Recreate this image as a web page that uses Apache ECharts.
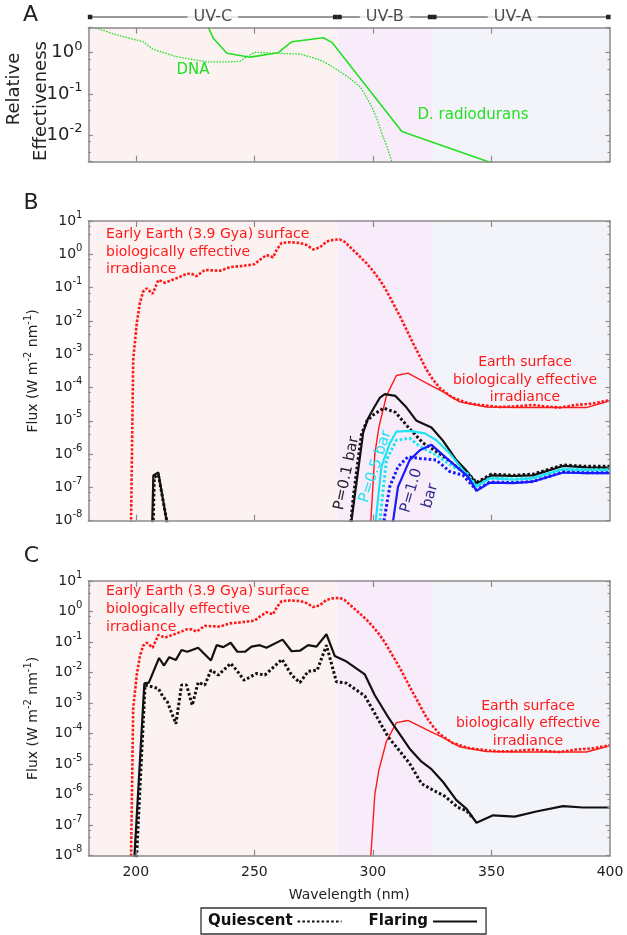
<!DOCTYPE html>
<html><head><meta charset="utf-8">
<script src="https://cdn.jsdelivr.net/npm/echarts@6/dist/echarts.min.js"></script>
<style>html,body{margin:0;padding:0;background:#fff}#c{width:627px;height:935px}</style>
</head><body><div id="c"></div>
<script>
// ---------------- DATA ----------------
// UV band limits (nm)
const bandEdges = [180, 285, 325, 400];
const uvNames = ['UV-C', 'UV-B', 'UV-A'];
const uvStart = [180.7, 285.9, 325.9];
const uvEnd = [284.1, 324.1, 399.3];
const uvLabelAt = [232.5, 305, 359];
const xTicks = [200, 250, 300, 350, 400];

// Panel A: action spectra (relative effectiveness)
const dnaWl  = [180, 183, 192, 203, 207.4, 217.2, 229.9, 239.7, 244, 246.7, 250.3, 260.8, 269.3, 277.7, 281.8, 286.1, 290.3, 294.6, 297, 299.5, 301.7, 303.8, 306, 308, 311];
const dnaVal = [5.5, 4.0, 2.68, 1.85, 1.2, 0.8, 0.6, 0.6, 0.62, 0.8, 1.02, 0.96, 0.93, 0.67, 0.5, 0.35, 0.24, 0.15, 0.089, 0.049, 0.025, 0.011, 0.0052, 0.0023, 0.0008];
const draWl  = [229.5, 230.6, 232.7, 238.4, 248.2, 260.1, 265.8, 279.1, 282.7, 312.2, 348.7, 360];
const draVal = [6.0, 4.1, 2.23, 0.97, 0.78, 1.0, 1.85, 2.3, 1.78, 0.0123, 0.0023, 0.00135];

// Early Earth (3.9 Gya) surface biologically effective irradiance (W m-2 nm-1)
const eeWl  = [197.8, 198.9, 200.4, 201.7, 203.1, 204.6, 207.1, 209.5, 212.3, 214.4, 218.6, 221.4, 223.5, 225.6, 229.1, 232, 235.5, 239.7, 244, 248.1, 250, 252.3, 255.1, 257.9, 259.5, 261.5, 265, 269.2, 272, 274.8, 277.6, 280.4, 283, 286, 288, 290.2, 293.5, 297.3, 300, 302.9, 305.5, 308.5, 311.5, 314.2, 317, 319.8, 322.5, 325.4, 328, 331, 333.5, 336.6, 340, 345, 353.5, 360, 367.5, 373, 378.7, 385.8, 392.8, 400];
const eeVal = [1e-9, 6.8e-4, 8.5e-3, 0.034, 0.076, 0.095, 0.065, 0.17, 0.14, 0.16, 0.21, 0.26, 0.26, 0.22, 0.34, 0.33, 0.32, 0.41, 0.44, 0.48, 0.5, 0.68, 0.95, 0.81, 1.4, 2.2, 2.3, 2.2, 1.9, 1.4, 1.6, 2.4, 2.7, 2.8, 2.4, 1.7, 1.0, 0.54, 0.32, 0.17, 0.085, 0.034, 0.0135, 5.4e-3, 2.1e-3, 8.5e-4, 3.5e-4, 1.7e-4, 1.0e-4, 6.8e-5, 5.0e-5, 4.2e-5, 3.4e-5, 3.0e-5, 2.6e-5, 2.7e-5, 3.0e-5, 2.7e-5, 2.5e-5, 3.0e-5, 3.3e-5, 4.2e-5];

// Present Earth surface biologically effective irradiance
const esWl  = [298.3, 300.8, 302.5, 305.7, 309.9, 314.8, 322.6, 329.6, 336.6, 347.9, 360.5, 378.7, 390, 400];
const esVal = [1e-9, 1.0e-6, 6.3e-6, 5.6e-5, 2.3e-4, 2.7e-4, 1.35e-4, 7.4e-5, 3.7e-5, 2.6e-5, 2.5e-5, 2.5e-5, 2.5e-5, 4.0e-5];

// Panel B: planet surface, P = 0.1 bar
const p01FlareWl  = [206.6, 207.4, 209.5, 215.4, 289.1, 293, 295.9, 298, 300.5, 303, 305, 309.5, 314.2, 318.4, 324.7, 329.6, 335.2, 339.4, 343.7, 350, 359.1, 367.5, 380.2, 390, 400];
const p01FlareVal = [1e-9, 2.3e-7, 2.8e-7, 1e-9, 1e-9, 1.26e-7, 4.5e-6, 1.2e-5, 2.5e-5, 5.0e-5, 6.3e-5, 5.6e-5, 2.5e-5, 1.0e-5, 6.3e-6, 2.5e-6, 6.6e-7, 3.2e-7, 1.3e-7, 2.3e-7, 2.2e-7, 2.3e-7, 4.4e-7, 4.0e-7, 3.9e-7];
const p01QuietWl  = [207, 207.8, 209.5, 215.6, 289.5, 291.6, 293.5, 295.2, 297.5, 300.1, 304.5, 309.5, 315, 321, 328, 335.2, 339.4, 343.7, 350, 359.1, 367.5, 380.2, 390, 400];
const p01QuietVal = [1e-9, 2.0e-7, 2.4e-7, 1e-9, 1e-9, 4.2e-8, 5.0e-7, 4.0e-6, 1.0e-5, 1.5e-5, 2.4e-5, 1.8e-5, 6.3e-6, 2.2e-6, 1.05e-6, 4.2e-7, 3.0e-7, 1.4e-7, 2.5e-7, 2.3e-7, 2.5e-7, 4.7e-7, 4.3e-7, 4.3e-7];
// P = 0.5 bar
const p05FlareWl  = [299.7, 303.6, 307.1, 309.9, 315.5, 321.9, 326.8, 332.4, 338, 343.7, 349.3, 359.1, 367.5, 380.2, 390, 400];
const p05FlareVal = [1e-9, 4.2e-7, 2.1e-6, 4.7e-6, 5.0e-6, 4.2e-6, 2.6e-6, 1.05e-6, 3.3e-7, 1.05e-7, 1.9e-7, 1.7e-7, 1.9e-7, 3.5e-7, 3.3e-7, 3.3e-7];
const p05QuietWl  = [301.4, 305.7, 309.9, 315.5, 319.8, 326.8, 333.8, 339.4, 343.7, 349.3, 359.1, 367.5, 380.2, 390, 400];
const p05QuietVal = [1e-9, 6.6e-7, 2.6e-6, 3.0e-6, 1.7e-6, 9.3e-7, 4.2e-7, 2.8e-7, 1.1e-7, 1.9e-7, 1.8e-7, 1.9e-7, 3.6e-7, 3.4e-7, 3.4e-7];
// P = 1.0 bar
const p10FlareWl  = [306.5, 310.6, 315.5, 319.8, 324.7, 329.6, 335.2, 340.1, 343.7, 349.3, 359.1, 367.5, 380.2, 390, 400];
const p10FlareVal = [1e-9, 1.05e-7, 6.6e-7, 1.3e-6, 1.9e-6, 9.3e-7, 4.2e-7, 2.1e-7, 7.9e-8, 1.4e-7, 1.35e-7, 1.5e-7, 2.8e-7, 2.7e-7, 2.7e-7];
const p10QuietWl  = [302.3, 307.1, 310.6, 314.8, 319.8, 326.8, 332.4, 338, 343.7, 349.3, 359.1, 367.5, 380.2, 390, 400];
const p10QuietVal = [1e-9, 1.05e-7, 4.2e-7, 8.3e-7, 7.4e-7, 6.6e-7, 3.0e-7, 2.3e-7, 8.3e-8, 1.45e-7, 1.4e-7, 1.5e-7, 2.9e-7, 2.75e-7, 2.75e-7];

// Panel C: top of atmosphere stellar flux
const topFlareWl  = [198.7, 203.6, 205.5, 209.8, 211.9, 214.1, 216.9, 219.3, 221.7, 226.3, 231.7, 234.1, 236.9, 240, 242.8, 246, 248.8, 252.3, 255.1, 261.9, 265.7, 269.2, 272.7, 276.2, 280.4, 283.9, 288.9, 296.6, 300.8, 306.4, 309.2, 315.5, 320.5, 324.7, 329.6, 335.2, 339.4, 343.7, 350.7, 359.8, 368.9, 380.2, 388.6, 400];
const topFlareVal = [1e-9, 4.4e-3, 4.7e-3, 0.030, 0.017, 0.032, 0.026, 0.055, 0.048, 0.065, 0.025, 0.079, 0.068, 0.095, 0.048, 0.048, 0.071, 0.079, 0.065, 0.12, 0.05, 0.052, 0.079, 0.071, 0.18, 0.035, 0.023, 8.7e-3, 1.8e-3, 3.5e-4, 1.66e-4, 3.2e-5, 1.2e-5, 6.8e-6, 2.6e-6, 6.6e-7, 3.5e-7, 1.2e-7, 2.1e-7, 1.9e-7, 2.8e-7, 4.2e-7, 3.8e-7, 3.8e-7];
const topQuietWl  = [199.7, 203.9, 206.5, 209.5, 211.5, 213.3, 216.9, 219.3, 221.4, 223.8, 226.3, 229.1, 231.7, 234.8, 240, 242.5, 245.7, 250.9, 254.4, 261.7, 265.7, 269.2, 272.7, 276.5, 280.4, 284.6, 288.9, 296.6, 300.8, 306.4, 315.5, 320.5, 325.4, 330.3, 335.9, 339.4, 342];
const topQuietVal = [1e-9, 3.9e-3, 3.5e-3, 3.0e-3, 1.6e-3, 1.1e-3, 2.1e-4, 3.9e-3, 3.9e-3, 8.5e-4, 4.8e-3, 3.9e-3, 0.012, 8.3e-3, 0.02, 0.012, 5.6e-3, 9.3e-3, 8.3e-3, 0.027, 8.3e-3, 4.7e-3, 0.011, 0.012, 0.079, 5.0e-3, 4.5e-3, 1.7e-3, 4.6e-4, 7.9e-5, 1.05e-5, 2.3e-6, 1.4e-6, 8.9e-7, 3.8e-7, 3.0e-7, 1.8e-7];

// ---------------- CHART ----------------
const FONT = 'DejaVu Sans';
const RED = '#ff1a1a', GREEN = '#22e022', BLACK = '#111111', CYAN = '#1ee3f3', BLUE = '#1a1aff';
const AX = '#8a8a8a';
const bandColors = ['#fdf2f2', '#f9ecfa', '#f3f4fa'];
const zip = (a, b) => a.map((x, i) => [x, b[i]]);

const plotL = 88.4, plotR = 17;
const chart = echarts.init(document.getElementById('c'), null, {renderer: 'canvas'});

function powLabel(v) {
  const e = Math.log10(v); const r = Math.round(e);
  if (Math.abs(e - r) > 1e-6) return '';
  return '10{s|' + (r < 0 ? '-' + (-r) : r) + '}';
}
function xAx(grid, pos, labels) {
  return {type: 'value', gridIndex: grid, position: pos, min: 180, max: 400, z: 5,
    axisLine: {show: true, onZero: false, lineStyle: {color: AX, width: 1.5}},
    axisTick: {show: true, inside: true, length: 6, customValues: xTicks.slice(0, 4), lineStyle: {color: AX, width: 1.2}},
    axisLabel: labels ? {show: true, customValues: xTicks, fontFamily: FONT, fontSize: 14, color: '#222', margin: 10} : {show: false},
    splitLine: {show: false}};
}
function yLog(grid, pos, min, max, labels, fs) {
  return {type: 'log', logBase: 10, gridIndex: grid, position: pos, min: min, max: max, z: 5,
    axisLine: {show: true, lineStyle: {color: AX, width: 1.5}},
    axisTick: {show: true, inside: true, length: 4.5, lineStyle: {color: AX, width: 1.2}},
    minorTick: {show: true, splitNumber: 3, length: 2.5, lineStyle: {color: AX, width: 1}},
    axisLabel: labels ? {show: true, formatter: powLabel, fontFamily: FONT, fontSize: fs, color: '#222', margin: 6, lineHeight: fs + 8,
      rich: {s: {fontSize: Math.round(fs * 0.7), lineHeight: 9, verticalAlign: 'top', fontFamily: FONT, color: '#222'}}} : {show: false},
    splitLine: {show: false}};
}
function bg(xi, yi) {
  return {type: 'line', xAxisIndex: xi, yAxisIndex: yi, data: [], silent: true, z: 1,
    markArea: {silent: true, data: bandColors.map((c, i) => [{xAxis: bandEdges[i], itemStyle: {color: c}}, {xAxis: bandEdges[i + 1]}])}};
}
function ln(name, xi, yi, wl, val, color, w, dash, z) {
  return {type: 'line', name: name, xAxisIndex: xi, yAxisIndex: yi, data: zip(wl, val), symbol: 'none', z: z || 3,
    clip: true, silent: true, color: color,
    lineStyle: {color: color, width: w, type: dash || 'solid'}};
}
const DOT_R = [2.6, 1.7], DOT_K = [2.6, 2.2], DOT_G = [1.6, 1.3];

const series = [
  bg(1, 1), bg(3, 3), bg(5, 5),
  // UV bar
  ...uvNames.map((n, i) => ({type: 'line', xAxisIndex: 0, yAxisIndex: 0, data: [[uvStart[i], 0.5], [uvEnd[i], 0.5]],
    symbol: 'rect', symbolSize: 4.5, showSymbol: true, silent: true, color: '#222', lineStyle: {color: '#333', width: 1.2}, z: 2})),
  {type: 'scatter', xAxisIndex: 0, yAxisIndex: 0, silent: true, symbolSize: 0, z: 4,
    data: uvNames.map((n, i) => [uvLabelAt[i], 0.5, n]),
    label: {show: true, position: 'inside', formatter: p => p.value[2], fontFamily: FONT, fontSize: 16, color: '#222',
      backgroundColor: '#fff', padding: [0, 6]}},
  // Panel A
  ln('DNA', 1, 1, dnaWl, dnaVal, GREEN, 1.3, DOT_G),
  ln('D. radiodurans', 1, 1, draWl, draVal, GREEN, 1.6),
  // Panel B
  ln('Early Earth B', 3, 3, eeWl, eeVal, RED, 2.6, DOT_R),
  ln('Earth B', 3, 3, esWl, esVal, RED, 1.4),
  ln('P0.1 quiescent', 3, 3, p01QuietWl, p01QuietVal, BLACK, 3, DOT_K),
  ln('P0.1 flaring', 3, 3, p01FlareWl, p01FlareVal, BLACK, 2.2),
  ln('P0.5 quiescent', 3, 3, p05QuietWl, p05QuietVal, CYAN, 3, DOT_K),
  ln('P0.5 flaring', 3, 3, p05FlareWl, p05FlareVal, CYAN, 2.2),
  ln('P1.0 quiescent', 3, 3, p10QuietWl, p10QuietVal, BLUE, 3, DOT_K),
  ln('P1.0 flaring', 3, 3, p10FlareWl, p10FlareVal, BLUE, 2.2),
  // Panel C
  ln('Early Earth C', 5, 5, eeWl, eeVal, RED, 2.6, DOT_R),
  ln('Earth C', 5, 5, esWl, esVal, RED, 1.4),
  ln('Quiescent', 5, 5, topQuietWl, topQuietVal, BLACK, 3, DOT_K),
  ln('Flaring', 5, 5, topFlareWl, topFlareVal, BLACK, 2.2)
];

const supRich = {s: {fontSize: 10, lineHeight: 9, verticalAlign: 'top', fontFamily: FONT, color: '#222'}};
function txt(x, y, text, opt) {
  return Object.assign({type: 'text', x: x, y: y, silent: true, z: 10,
    style: Object.assign({text: text, font: '15px "DejaVu Sans"', fill: '#222', align: 'center', verticalAlign: 'middle'}, opt.style || {})},
    opt.el || {});
}
const deg = Math.PI / 180;
const graphic = [
  txt(30.5, 15, 'A', {style: {font: '22px "DejaVu Sans"'}}),
  txt(31, 203, 'B', {style: {font: '22px "DejaVu Sans"'}}),
  txt(31.5, 556.5, 'C', {style: {font: '22px "DejaVu Sans"'}}),
  txt(14, 89, 'Relative', {style: {font: '18px "DejaVu Sans"'}, el: {rotation: 90 * deg}}),
  txt(41, 101, 'Effectiveness', {style: {font: '18px "DejaVu Sans"'}, el: {rotation: 90 * deg}}),
  txt(193, 70, 'DNA', {style: {fill: GREEN}}),
  txt(473, 115, 'D. radiodurans', {style: {fill: GREEN}}),
  txt(106, 226, 'Early Earth (3.9 Gya) surface\nbiologically effective\nirradiance', {style: {fill: RED, align: 'left', verticalAlign: 'top', lineHeight: 17.5, font: '14px "DejaVu Sans"'}}),
  txt(106, 583, 'Early Earth (3.9 Gya) surface\nbiologically effective\nirradiance', {style: {fill: RED, align: 'left', verticalAlign: 'top', lineHeight: 17.6, font: '14px "DejaVu Sans"'}}),
  txt(525, 354, 'Earth surface\nbiologically effective\nirradiance', {style: {fill: RED, verticalAlign: 'top', lineHeight: 17.4, font: '14px "DejaVu Sans"'}}),
  txt(528, 697, 'Earth surface\nbiologically effective\nirradiance', {style: {fill: RED, verticalAlign: 'top', lineHeight: 17.8, font: '14px "DejaVu Sans"'}}),
  txt(346.7, 473.3, 'P=0.1 bar', {style: {fill: '#222'}, el: {rotation: 78 * deg}}),
  txt(375.5, 466.7, 'P=0.5 bar', {style: {fill: CYAN}, el: {rotation: 72 * deg}}),
  txt(420.8, 493.3, 'P=1.0\nbar', {style: {fill: '#2e2e8a', lineHeight: 19.5}, el: {rotation: 74 * deg}})
];

const option = {
  animation: false,
  backgroundColor: '#fff',
  grid: [
    {left: plotL, right: plotR, top: 10, height: 14},
    {left: plotL, right: plotR, top: 27.7, height: 134},
    {left: plotL, right: plotR, top: 221, height: 299.7},
    {left: plotL, right: plotR, top: 581, height: 274.7}
  ],
  xAxis: [
    {type: 'value', gridIndex: 0, min: 180, max: 400, show: false},
    xAx(1, 'bottom', false), xAx(1, 'top', false),
    xAx(2, 'bottom', false), xAx(2, 'top', false),
    Object.assign(xAx(3, 'bottom', true), {name: 'Wavelength (nm)', nameLocation: 'middle', nameGap: 33,
      nameTextStyle: {fontFamily: FONT, fontSize: 14, color: '#222'}}),
    xAx(3, 'top', false)
  ],
  yAxis: [
    {type: 'value', gridIndex: 0, min: 0, max: 1, show: false},
    yLog(1, 'left', 0.0023, 4.03, true, 18), yLog(1, 'right', 0.0023, 4.03, false),
    Object.assign(yLog(2, 'left', 1e-8, 10, true, 14), {name: 'Flux (W m{s|-2} nm{s|-1})', nameLocation: 'middle', nameGap: 40, nameRotate: 90,
      nameTextStyle: {fontFamily: FONT, fontSize: 14, color: '#222', lineHeight: 20, rich: supRich}}),
    yLog(2, 'right', 1e-8, 10, false),
    Object.assign(yLog(3, 'left', 1e-8, 10, true, 14), {name: 'Flux (W m{s|-2} nm{s|-1})', nameLocation: 'middle', nameGap: 40, nameRotate: 90,
      nameTextStyle: {fontFamily: FONT, fontSize: 14, color: '#222', lineHeight: 20, rich: supRich}}),
    yLog(3, 'right', 1e-8, 10, false)
  ],
  legend: {data: ['Quiescent', 'Flaring'], left: 201, top: 908, orient: 'horizontal', align: 'right',
    itemWidth: 44, itemHeight: 12, itemGap: 26, padding: [6, 8, 5, 7], borderColor: '#333', borderWidth: 1.3,
    selectedMode: false, itemStyle: {opacity: 0, borderWidth: 0},
    textStyle: {fontFamily: FONT, fontWeight: 'bold', fontSize: 15, color: '#111'}},
  series: series,
  graphic: graphic
};
chart.setOption(option);
</script></body></html>
